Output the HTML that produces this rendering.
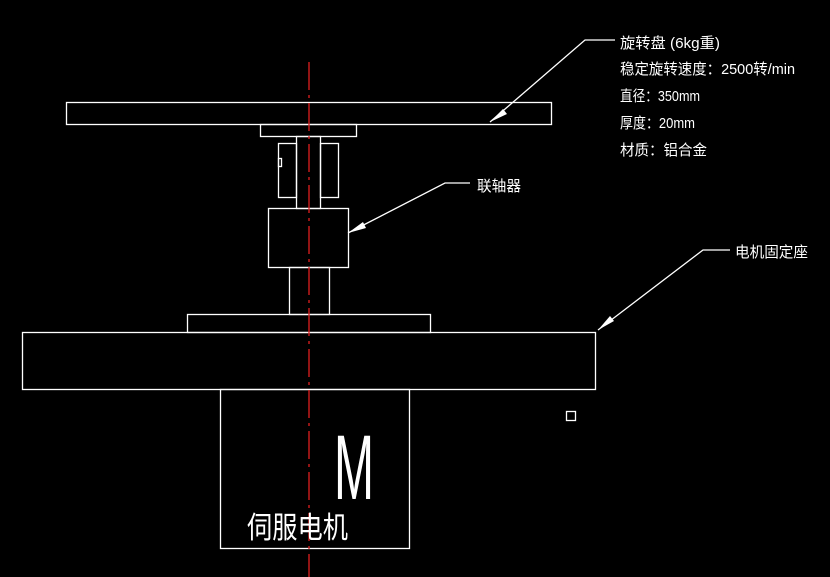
<!DOCTYPE html>
<html><head><meta charset="utf-8"><style>html,body{margin:0;padding:0;background:#000}svg{display:block}</style></head><body>
<svg width="830" height="577" viewBox="0 0 830 577" xmlns="http://www.w3.org/2000/svg">
<rect width="830" height="577" fill="#000"/>
<g fill="none" stroke="#fff" stroke-width="1.3">
<rect x="66.5" y="102.5" width="485" height="22"/>
<rect x="260.5" y="124.5" width="96" height="12"/>
<rect x="296.5" y="136.5" width="24" height="72"/>
<rect x="278.5" y="143.5" width="18" height="54"/>
<rect x="320.5" y="143.5" width="18" height="54"/>
<rect x="278.5" y="158.5" width="3" height="8"/>
<rect x="268.5" y="208.5" width="80" height="59"/>
<rect x="289.5" y="267.5" width="40" height="47"/>
<rect x="187.5" y="314.5" width="243" height="18"/>
<rect x="22.5" y="332.5" width="573" height="57"/>
<rect x="220.5" y="389.5" width="189" height="159"/>
<rect x="566.5" y="411.5" width="9" height="9"/>
<polyline points="490,122 585,40 615,40"/>
<polyline points="348,233 445,183 470,183"/>
<polyline points="598,330 703,250 730,250"/>
</g>
<g fill="#fff">
<polygon points="490,122 503,109 507,114"/>
<polygon points="348,233 363,222 366,228"/>
<polygon points="598,330 610,316 614,321"/>
</g>
<line x1="309" y1="62" x2="309" y2="577" stroke="#e02020" stroke-width="1.3" stroke-dasharray="28,5,3,5"/>
<g fill="#fff" font-family="'Liberation Sans','Noto Sans CJK SC',sans-serif" font-size="15">
<text x="620" y="48" textLength="100" lengthAdjust="spacingAndGlyphs">旋转盘 (6kg重)</text>
<text x="620" y="74" textLength="175" lengthAdjust="spacingAndGlyphs">稳定旋转速度：2500转/min</text>
<text x="620" y="101" textLength="80" lengthAdjust="spacingAndGlyphs">直径：350mm</text>
<text x="620" y="128" textLength="75" lengthAdjust="spacingAndGlyphs">厚度：20mm</text>
<text x="620" y="155" textLength="87" lengthAdjust="spacingAndGlyphs">材质：铝合金</text>
<text x="477" y="191" textLength="44" lengthAdjust="spacingAndGlyphs">联轴器</text>
<text x="735" y="257" textLength="73" lengthAdjust="spacingAndGlyphs">电机固定座</text>
<text x="334" y="499" font-size="92" font-weight="normal" textLength="40" lengthAdjust="spacingAndGlyphs" transform="translate(0,0)">M</text>
<text x="247" y="538" font-size="30" textLength="101" lengthAdjust="spacingAndGlyphs">伺服电机</text>
</g>
</svg>
</body></html>
